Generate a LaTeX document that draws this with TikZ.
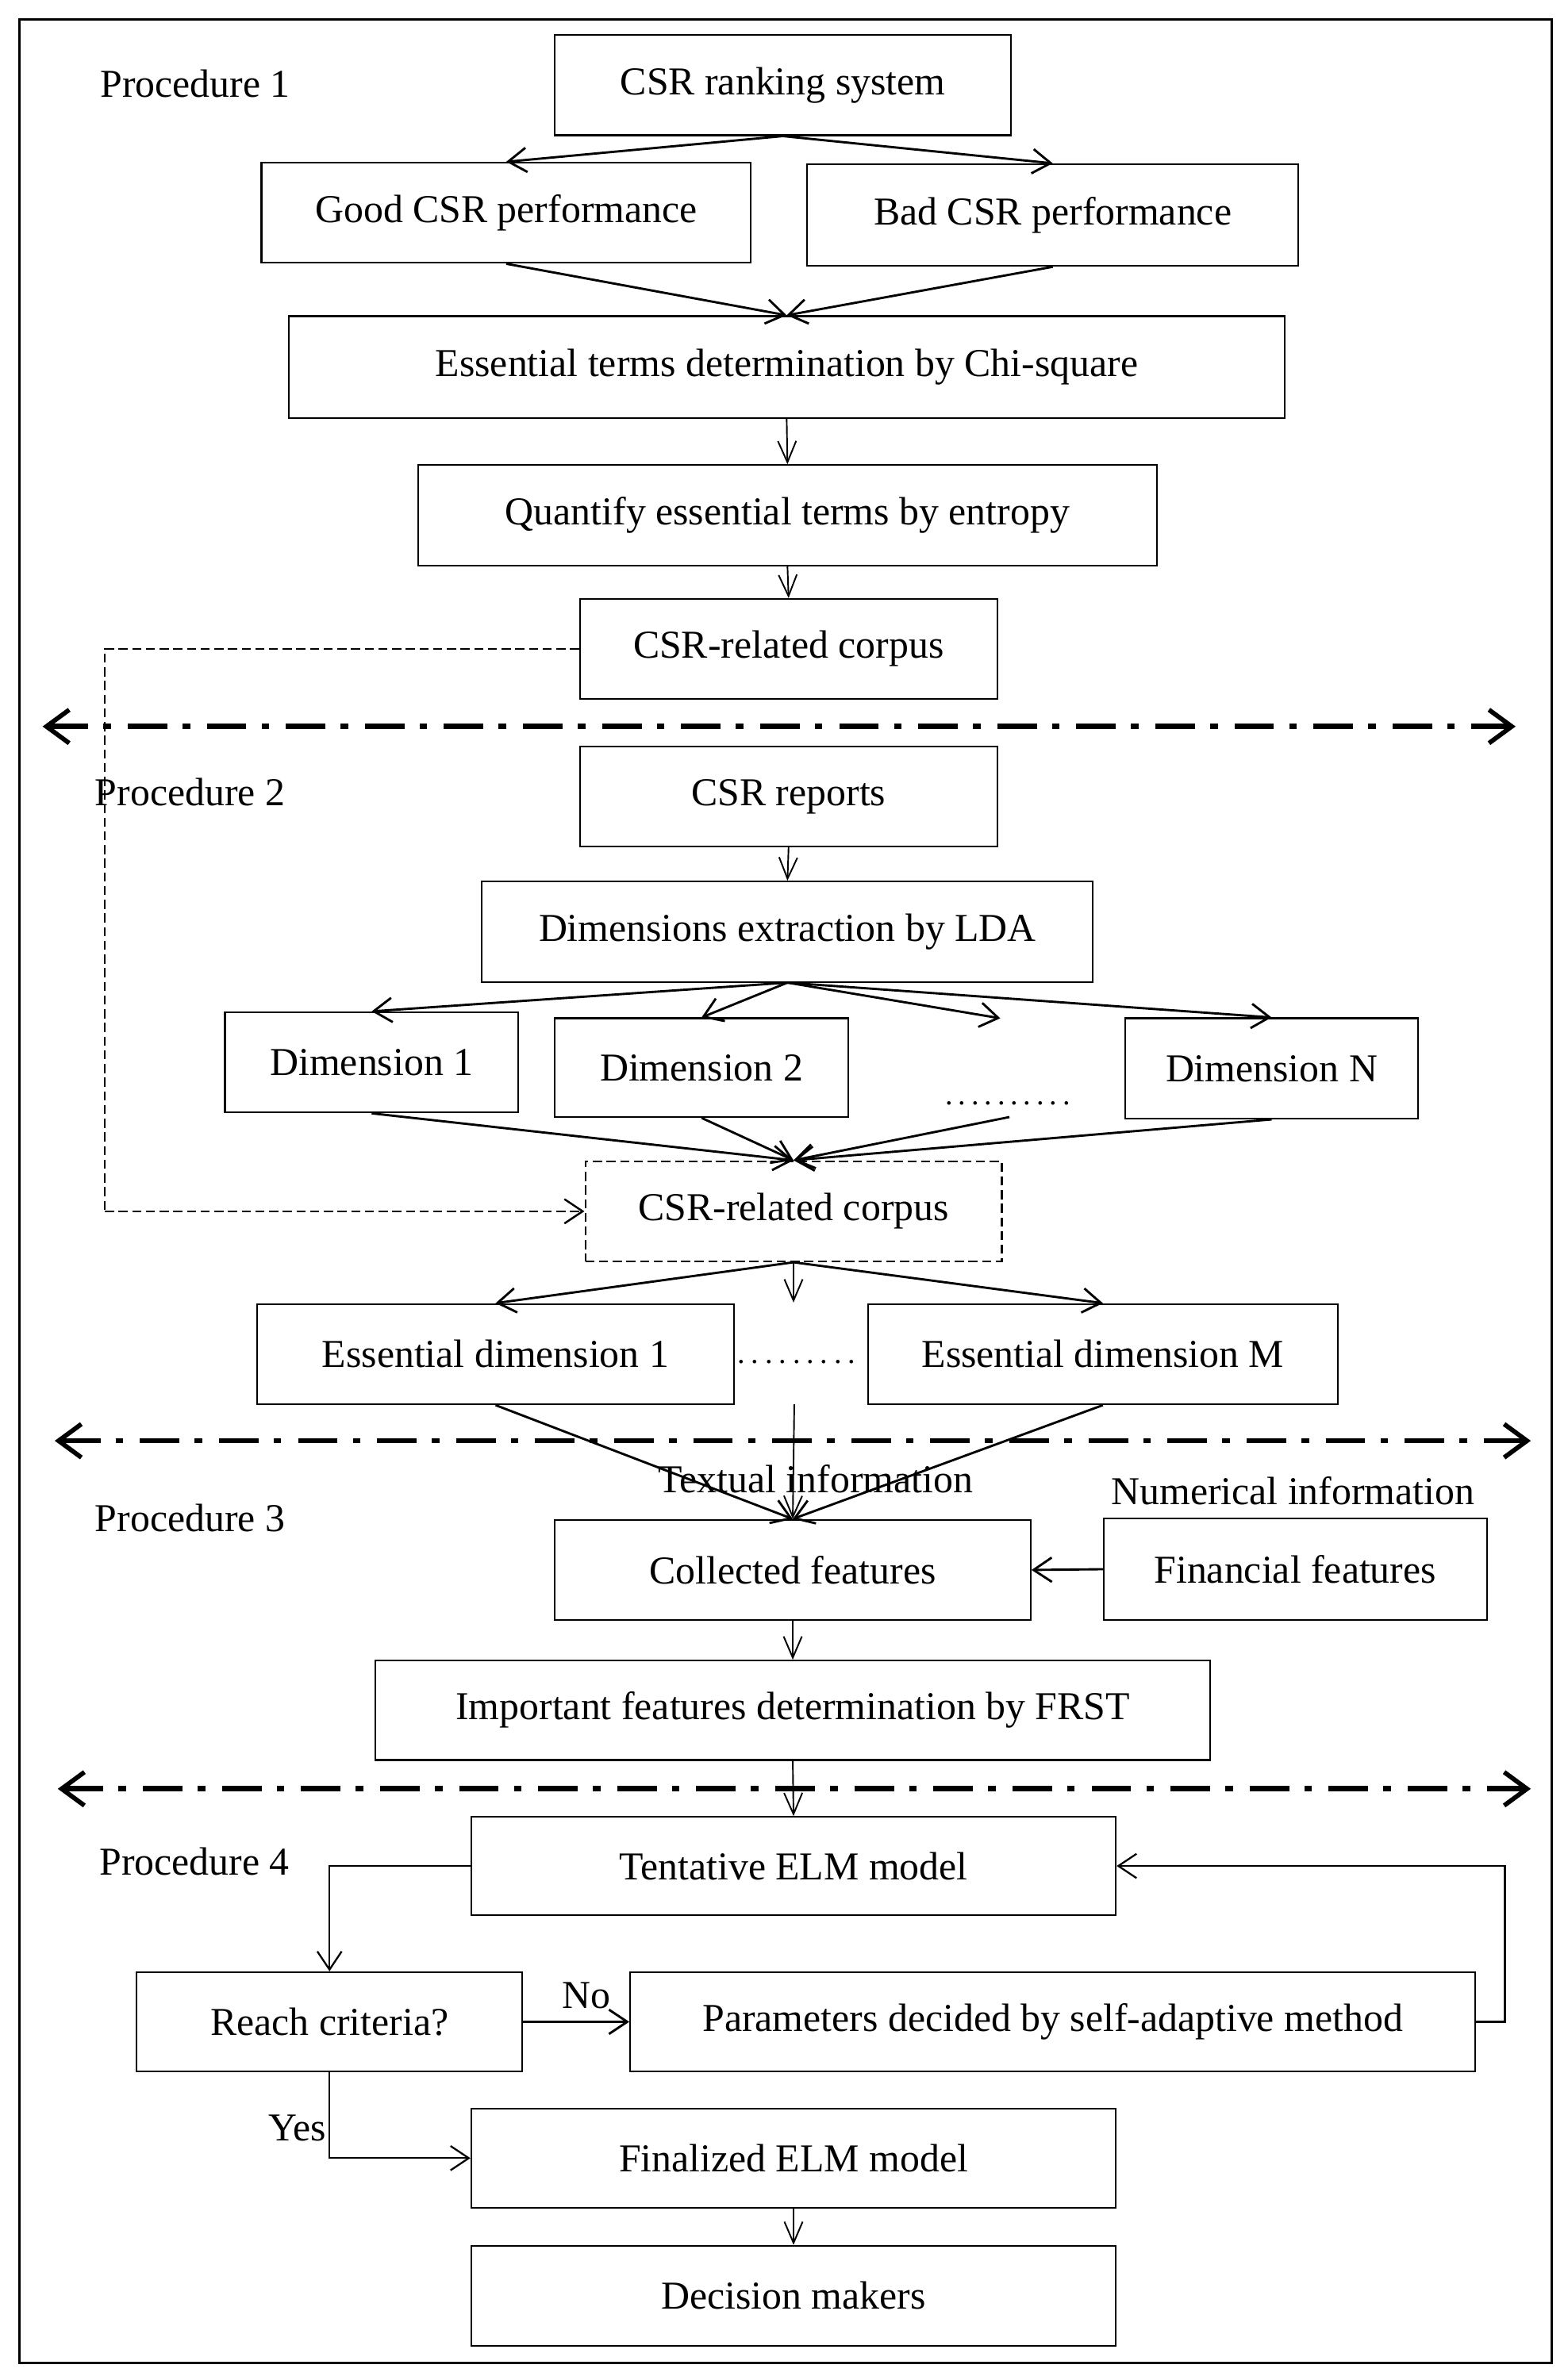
\documentclass[tikz,border=0pt]{standalone}
\usepackage{fontspec}
\setmainfont{Liberation Serif}
\usetikzlibrary{arrows.meta}
\newcommand\dotsrow[2]{\makebox[#1][s]{\fontsize{20pt}{24pt}\selectfont .\foreach \i in {2,...,#2}{\hfill.}}}
\begin{document}
\begin{tikzpicture}[x=1pt,y=-1pt,
  font=\fontsize{26pt}{31pt}\selectfont,
  box/.style={draw, line width=1.1pt, inner sep=0pt, align=center},
  wh/.style 2 args={minimum width=#1pt, minimum height=#2pt},
  arr/.style={line width=1.5pt, -{Straight Barb[length=12pt,width=16pt]}},
  varr/.style={line width=1pt, -{Straight Barb[length=14pt,width=12pt]}},
  sep/.style={line width=3.5pt, dash pattern=on 26pt off 10pt on 5pt off 11pt,
    {Straight Barb[length=15pt,width=22pt,line width=3pt]}-{Straight Barb[length=15pt,width=22pt,line width=3pt]}},
  dline/.style={line width=1.3pt, dash pattern=on 6pt off 3pt},
  lbl/.style={inner sep=0pt}]
\useasboundingbox (0,0) rectangle (1031,1566);
\draw[line width=1.6pt] (13,13) rectangle (1021,1555);

% Procedure 1
\node[lbl] (p1) at (128.5,55) {Procedure 1};
\node[box, wh={300}{66}] (rank) at (515,56) {CSR ranking system};
\node[box, wh={322}{66}] (good) at (333,140) {Good CSR performance};
\node[box, wh={323}{67}] (bad) at (692.5,141.5) {Bad CSR performance};
\node[box, wh={655}{67}] (chi) at (517.5,241.5) {Essential terms determination by Chi-square};
\node[box, wh={486}{66}] (ent) at (518,339) {Quantify essential terms by entropy};
\node[box, wh={274.5}{66}] (corp1) at (518.75,427) {CSR-related corpus};

\draw[arr] (rank.south) -- (good.north);
\draw[arr] (rank.south) -- (bad.north);
\draw[arr] (good.south) -- (chi.north);
\draw[arr] (bad.south) -- (chi.north);
\draw[varr] (chi.south) -- (ent.north);
\draw[varr] (ent.south) -- (corp1.north);

\coordinate (s1l) at (28,478); \coordinate (s1r) at (997,478);
\draw[sep] (s1l) -- (s1r);

% Procedure 2
\node[lbl] (p2) at (125,521) {Procedure 2};
\node[box, wh={274.5}{66}] (rep) at (518.75,524) {CSR reports};
\node[box, wh={402}{66}] (lda) at (518,613) {Dimensions extraction by LDA};
\node[box, wh={193}{66}] (d1) at (244.5,699) {Dimension 1};
\node[box, wh={193}{65}] (d2) at (461.5,702.5) {Dimension 2};
\node[box, wh={193}{66}] (dN) at (836.5,703) {Dimension N};
\node[lbl] (ddots) at (663,726) {\dotsrow{82pt}{10}};
\node[box, wh={274}{66}, dash pattern=on 6pt off 3pt] (corp2) at (522,797) {CSR-related corpus};
\node[box, wh={314}{66}] (ed1) at (326,891) {Essential dimension 1};
\node[box, wh={309}{66}] (edM) at (725.5,891) {Essential dimension M};
\node[lbl] (edots) at (524,896) {\dotsrow{78pt}{9}};

\coordinate (dT) at (658,670);
\coordinate (dB) at (664,735);
\coordinate (cmid) at (522,857);
\draw[varr] (rep.south) -- (lda.north);
\draw[arr] (lda.south) -- (d1.north);
\draw[arr] (lda.south) -- (d2.north);
\draw[arr] (lda.south) -- (dT);
\draw[arr] (lda.south) -- (dN.north);
\draw[arr] (d1.south) -- (corp2.north);
\draw[arr] (d2.south) -- (corp2.north);
\draw[arr] (dB) -- (corp2.north);
\draw[arr] (dN.south) -- (corp2.north);
\draw[arr] (corp2.south) -- (ed1.north);
\draw[arr] (corp2.south) -- (edM.north);
\draw[varr] (corp2.south) -- (cmid);

\coordinate (dtop) at (69,427);
\coordinate (dbot) at (69,797);
\draw[dline] (corp1.west) -- (dtop) -- (dbot);
\draw[dline, -{Straight Barb[length=12pt,width=16pt]}] (dbot) -- (corp2.west);

\coordinate (s2l) at (36,948); \coordinate (s2r) at (1007,948);
\draw[sep] (s2l) -- (s2r);

% Procedure 3
\node[lbl] (p3) at (125,999) {Procedure 3};
\node[lbl] (txt) at (536.5,973) {Textual information};
\node[lbl] (num) at (850.5,981) {Numerical information};
\node[box, wh={313}{66}] (coll) at (521.5,1033) {Collected features};
\node[box, wh={252}{67}] (fin) at (852,1032.5) {Financial features};
\node[box, wh={549}{65.5}] (frst) at (521.5,1125.3) {Important features determination by FRST};

\coordinate (edmid) at (522.5,924);
\draw[arr] (ed1.south) -- (coll.north);
\draw[arr] (edM.south) -- (coll.north);
\draw[varr] (edmid) -- (coll.north);
\draw[arr] (fin.west) -- (coll.east);
\draw[varr] (coll.south) -- (frst.north);

\coordinate (s3l) at (38,1177); \coordinate (s3r) at (1007,1177);
\draw[sep] (s3l) -- (s3r);

% Procedure 4
\node[lbl] (p4) at (128,1225) {Procedure 4};
\node[box, wh={424}{64.5}] (tent) at (522,1227.75) {Tentative ELM model};
\node[box, wh={253.5}{65.4}] (reach) at (216.75,1330.3) {Reach criteria?};
\node[box, wh={556}{65.4}] (par) at (692.5,1330.3) {Parameters decided by self-adaptive method};
\node[box, wh={424}{65}] (final) at (522,1420) {Finalized ELM model};
\node[box, wh={424}{65.7}] (dec) at (522,1510.5) {Decision makers};
\node[lbl] (no) at (385.5,1313) {No};
\node[lbl] (yes) at (195.5,1400) {Yes};

\coordinate (loopR) at (990,1330.3);
\draw[varr] (frst.south) -- (tent.north);
\draw[arr, line width=1.2pt] (tent.west) -| (reach.north);
\draw[arr] (reach.east) -- (par.west);
\draw[arr, line width=1.2pt] (par.east) -- (loopR) |- (tent.east);
\draw[arr, line width=1.2pt] (reach.south) |- (final.west);
\draw[varr] (final.south) -- (dec.north);
\end{tikzpicture}
\end{document}
